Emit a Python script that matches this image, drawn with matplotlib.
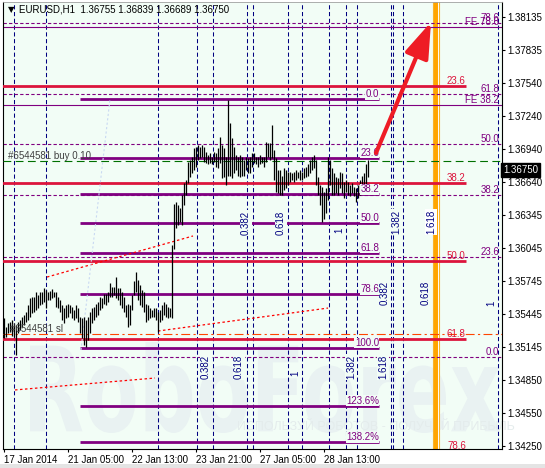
import matplotlib
matplotlib.use("Agg")
import matplotlib.pyplot as plt
from matplotlib.patches import FancyArrowPatch, PathPatch, Rectangle
from matplotlib.textpath import TextPath
from matplotlib.font_manager import FontProperties
from matplotlib.transforms import Affine2D

W, H = 545, 468
BG = "#F2FDF6"
NAVY = "#000080"
PURPLE = "#800080"
RED = "#DC143C"

plt.rcParams["font.family"] = ["Liberation Sans", "DejaVu Sans"]
plt.rcParams["font.size"] = 7

# EURUSD H1 bars (high / low), one per hour from 17 Jan 2014 21:00
bar_high = [
    1.3541, 1.3533, 1.3536, 1.3537, 1.3539, 1.3536, 1.3535, 1.3537, 1.3539, 1.3542,
    1.3544, 1.3546, 1.3553, 1.3559, 1.3560, 1.3560, 1.3564, 1.3562, 1.3564, 1.3564,
    1.3568, 1.3566, 1.3564, 1.3565, 1.3567, 1.3564, 1.3564, 1.3560, 1.3557, 1.3553,
    1.3550, 1.3553, 1.3554, 1.3553, 1.3551, 1.3548, 1.3553, 1.3550, 1.3542, 1.3541,
    1.3542, 1.3539, 1.3542, 1.3546, 1.3550, 1.3551, 1.3554, 1.3555, 1.3560, 1.3559,
    1.3563, 1.3563, 1.3564, 1.3573, 1.3569, 1.3569, 1.3578, 1.3568, 1.3568, 1.3564,
    1.3560, 1.3553, 1.3554, 1.3553, 1.3562, 1.3574, 1.3583, 1.3575, 1.3571, 1.3566,
    1.3564, 1.3554, 1.3553, 1.3550, 1.3548, 1.3550, 1.3550, 1.3546, 1.3548, 1.3553,
    1.3555, 1.3554, 1.3551, 1.3550, 1.3607, 1.3644, 1.3646, 1.3643, 1.3641, 1.3652,
    1.3663, 1.3666, 1.3682, 1.3684, 1.3687, 1.3695, 1.3696, 1.3698, 1.3696, 1.3698,
    1.3696, 1.3691, 1.3689, 1.3690, 1.3687, 1.3691, 1.3690, 1.3695, 1.3705, 1.3698,
    1.3695, 1.3687, 1.3738, 1.3718, 1.3704, 1.3696, 1.3689, 1.3687, 1.3689, 1.3687,
    1.3684, 1.3687, 1.3686, 1.3687, 1.3690, 1.3690, 1.3687, 1.3687, 1.3689, 1.3687,
    1.3687, 1.3700, 1.3699, 1.3699, 1.3716, 1.3693, 1.3686, 1.3675, 1.3675, 1.3670,
    1.3677, 1.3675, 1.3673, 1.3673, 1.3672, 1.3673, 1.3675, 1.3673, 1.3675, 1.3673,
    1.3677, 1.3678, 1.3680, 1.3684, 1.3687, 1.3689, 1.3684, 1.3669, 1.3661, 1.3660,
    1.3655, 1.3659, 1.3687, 1.3684, 1.3677, 1.3672, 1.3669, 1.3668, 1.3673, 1.3672,
    1.3664, 1.3666, 1.3664, 1.3661, 1.3663, 1.3660, 1.3659, 1.3661, 1.3666, 1.3670,
    1.3672, 1.3680, 1.3684,
]
bar_low = [
    1.3523, 1.3524, 1.3527, 1.3528, 1.3525, 1.3524, 1.3507, 1.3527, 1.3530, 1.3533,
    1.3535, 1.3537, 1.3539, 1.3542, 1.3545, 1.3546, 1.3548, 1.3550, 1.3553, 1.3554,
    1.3555, 1.3550, 1.3557, 1.3557, 1.3559, 1.3560, 1.3551, 1.3550, 1.3546, 1.3539,
    1.3536, 1.3541, 1.3542, 1.3545, 1.3541, 1.3539, 1.3541, 1.3537, 1.3527, 1.3523,
    1.3516, 1.3515, 1.3521, 1.3527, 1.3536, 1.3539, 1.3542, 1.3544, 1.3548, 1.3550,
    1.3554, 1.3553, 1.3555, 1.3560, 1.3560, 1.3562, 1.3559, 1.3557, 1.3553, 1.3550,
    1.3546, 1.3542, 1.3533, 1.3535, 1.3548, 1.3562, 1.3564, 1.3557, 1.3553, 1.3551,
    1.3546, 1.3537, 1.3539, 1.3541, 1.3542, 1.3542, 1.3539, 1.3528, 1.3537, 1.3539,
    1.3544, 1.3542, 1.3541, 1.3542, 1.3541, 1.3603, 1.3622, 1.3625, 1.3628, 1.3625,
    1.3643, 1.3652, 1.3663, 1.3669, 1.3672, 1.3675, 1.3678, 1.3684, 1.3686, 1.3687,
    1.3682, 1.3681, 1.3680, 1.3681, 1.3680, 1.3682, 1.3678, 1.3677, 1.3681, 1.3668,
    1.3669, 1.3661, 1.3670, 1.3670, 1.3668, 1.3672, 1.3675, 1.3670, 1.3669, 1.3670,
    1.3670, 1.3675, 1.3672, 1.3672, 1.3678, 1.3681, 1.3680, 1.3678, 1.3680, 1.3681,
    1.3678, 1.3682, 1.3687, 1.3684, 1.3686, 1.3666, 1.3655, 1.3654, 1.3652, 1.3652,
    1.3657, 1.3659, 1.3661, 1.3664, 1.3666, 1.3664, 1.3666, 1.3668, 1.3666, 1.3666,
    1.3668, 1.3669, 1.3670, 1.3672, 1.3675, 1.3677, 1.3661, 1.3652, 1.3643, 1.3628,
    1.3631, 1.3636, 1.3648, 1.3661, 1.3652, 1.3652, 1.3654, 1.3652, 1.3659, 1.3654,
    1.3650, 1.3655, 1.3652, 1.3651, 1.3654, 1.3651, 1.3646, 1.3650, 1.3652, 1.3655,
    1.3661, 1.3660, 1.3669,
]
last_price = 1.36750
header = "EURUSD,H1  1.36755 1.36839 1.36689 1.36750"

time_label_bars = [0, 32, 64, 96, 128, 160]
time_labels = ["17 Jan 2014", "21 Jan 05:00", "22 Jan 13:00",
               "23 Jan 21:00", "27 Jan 05:00", "28 Jan 13:00"]
price_ticks = [1.38135, 1.37835, 1.37540, 1.37240, 1.36940, 1.36640, 1.36345,
               1.36045, 1.35745, 1.35445, 1.35145, 1.34850, 1.34550, 1.34250]

# Fibonacci retracement, dashed, across the whole chart
retr_labels = ["78.6", "61.8", "50.0", "38.2", "23.6", "0.0"]
retr_prices = [1.38082, 1.37438, 1.36985, 1.36523, 1.35962, 1.35056]
# Fibonacci expansion, thin solid
fe_labels = ["FE 78.6", "FE 38.2"]
fe_prices = [1.38045, 1.37339]
# second retracement (red)
red_labels = ["23.6", "38.2", "50.0", "61.8", "78.6"]
red_prices = [1.37511, 1.36632, 1.35925, 1.35219, 1.34208]
# third retracement / extension (purple, thick)
pur_labels = ["0.0", "23.6", "38.2", "50.0", "61.8", "78.6", "100.0", "123.6%", "138.2%"]
pur_prices = [1.37393, 1.36859, 1.36532, 1.36270, 1.35998, 1.35626, 1.35137, 1.34612, 1.34285]
pur_start, pur_end = 38, 187.5
red_end = 231

buy_price = 1.36831
sl_price = 1.35264

# Fibonacci time zones (bar positions)
time_zone_bars = [5, 21, 77, 96.5, 104.5, 121.5, 124.5, 142, 149, 162.5,
                  171, 176.5, 193.5, 194.5, 199.5, 247]
highlight_bar = 216

# trend lines: (bar0, price0, bar1, price1)
red_dotted = [(5.5, 1.34757, 75.5, 1.34865),
              (21.5, 1.35780, 94.5, 1.36152),
              (77, 1.35291, 162, 1.35499)]
fib_anchor = (38.5, 1.35119, 53, 1.37393)
arrow_from = (186, 1.36904)
arrow_to = (213.5, 1.38091)


def fxy(x, y):
    return x / W, 1 - y / H


fig = plt.figure(figsize=(W / 100, H / 100), dpi=100)
fig.patch.set_facecolor("white")
fig.add_artist(Rectangle((0, 0), 1, 4 / H, transform=fig.transFigure,
                         facecolor="#E4E4E4", edgecolor="none"))
ax = fig.add_axes([3 / W, 19 / H, 499 / W, 447 / H])
ax.set_facecolor(BG)

# watermark
tp = TextPath((0, 0), "RoboForex", size=100,
              prop=FontProperties(family="DejaVu Sans", weight="bold"))
bb = tp.get_extents()
x0, y0 = fxy(30, 433)
x1, y1 = fxy(500, 342)
tr = Affine2D().translate(-bb.x0, -bb.y0).scale((x1 - x0) / bb.width, (y1 - y0) / bb.height) \
    .translate(x0, y0) + fig.transFigure
ax.add_artist(PathPatch(tp, transform=tr, facecolor="#E9F2F2", edgecolor="none", zorder=0.5))
ax.text(*fxy(237, 427), "ИСПОЛЬЗУЙ РОБОТОВ - ПОЛУЧАЙ ПРИБЫЛЬ", transform=fig.transFigure,
        fontsize=9, color="#E4ECEC", va="center", ha="left", zorder=0.6)

# time zones
for b in time_zone_bars:
    ax.axvline(b, color=NAVY, lw=0.75, dashes=(4, 2.5), zorder=1)
ax.axvspan(highlight_bar - 1.5, highlight_bar + 1.5, facecolor="white", edgecolor="none", zorder=1.1)
ax.axvline(highlight_bar - 1.5, color="#F7B32B", lw=0.8, zorder=1.2)
ax.axvline(highlight_bar + 1.5, color="#F7B32B", lw=0.8, zorder=1.2)
ax.axvspan(highlight_bar - 0.8, highlight_bar + 0.8, facecolor="#FFA500", edgecolor="none", zorder=1.2)

tz_texts = [("0.382", 246, 223), ("0.618", 281, 223), ("1", 339, 230),
            ("1.382", 396, 222), ("1.618", 431, 222),
            ("0.382", 385, 293), ("0.618", 426, 293), ("1", 491, 303),
            ("0.382", 206, 367), ("0.618", 239, 367), ("1", 295, 373),
            ("1.382", 351, 367), ("1.618", 383, 367)]
for t, x, y in tz_texts:
    fc = "white" if t == "1.618" and x > 420 else BG
    ax.text(*fxy(x, y), t, transform=fig.transFigure, rotation=90, color=NAVY,
            ha="center", va="center", fontsize=7, zorder=6,
            bbox=dict(boxstyle="square,pad=0.1", facecolor=fc, edgecolor="none"))

# dashed retracement and FE lines
for p, lab in zip(retr_prices, retr_labels):
    ax.axhline(p, color=PURPLE, lw=0.8, dashes=(3, 2), zorder=2)
    ax.text(247.5, p, lab, color=PURPLE, ha="right", va="bottom", fontsize=7, zorder=5)
for p, lab in zip(fe_prices, fe_labels):
    ax.axhline(p, color=PURPLE, lw=0.8, zorder=2)
    ax.text(247.5, p, lab, color=PURPLE, ha="right", va="bottom", fontsize=7, zorder=5)

# red levels
for p, lab in zip(red_prices, red_labels):
    ax.plot([-1, red_end], [p, p], color=RED, lw=2, solid_capstyle="butt", zorder=3)
    ax.text(221.5, p, lab, color=RED, ha="left", va="bottom", fontsize=7, zorder=5,
            clip_on=False)

# purple levels
for p, lab in zip(pur_prices, pur_labels):
    ax.plot([pur_start, pur_end], [p, p], color=PURPLE, lw=2, solid_capstyle="butt", zorder=3.2)
    ax.text(pur_end, p, lab, color=PURPLE, ha="right", va="bottom", fontsize=7, zorder=5,
            bbox=dict(boxstyle="square,pad=0.05", facecolor=BG, edgecolor="none"))

# trade lines
ax.axhline(buy_price, color="#007000", lw=0.8, dashes=(7, 4), zorder=3.5)
ax.text(2, buy_price, "#6544581 buy 0.10", color="#404040", ha="left", va="bottom",
        fontsize=7, zorder=5)
ax.axhline(sl_price, color="#FF4500", lw=0.8, dashes=(8, 3, 2, 3), zorder=3.5)
ax.text(3, sl_price, "#6544581 sl", color="#404040", ha="left", va="bottom",
        fontsize=7, zorder=5)

# trend lines
for b0, p0, b1, p1 in red_dotted:
    ax.plot([b0, b1], [p0, p1], color="#FF0000", lw=0.9, dashes=(2, 2), zorder=3.6)
ax.plot([fib_anchor[0], fib_anchor[2]], [fib_anchor[1], fib_anchor[3]],
        color="#C9D9F2", lw=0.8, dashes=(2, 2), zorder=3.6)

# price bars
bars = list(range(len(bar_high)))
ax.vlines(bars, bar_low, bar_high, color="black", lw=0.9, zorder=4)

# arrow
ax.add_patch(FancyArrowPatch(arrow_from, arrow_to,
                             arrowstyle="-|>,head_length=2.2,head_width=0.75",
                             mutation_scale=10, lw=3, color="#EE1C25",
                             shrinkA=0, shrinkB=0, zorder=7))

ax.set_xlim(-0.5, 249)
ax.set_ylim(1.34222, 1.38272)

ax.yaxis.tick_right()
ax.set_yticks(price_ticks)
ax.set_yticklabels([f"{v:.5f}" for v in price_ticks])
ax.tick_params(axis="y", direction="out", length=2.5, width=0.8, pad=1.5, labelsize=7)
ax.set_xticks(time_label_bars)
ax.set_xticklabels(time_labels)
plt.setp(ax.get_xticklabels(), ha="left")
ax.tick_params(axis="x", direction="out", length=2.5, width=0.8, pad=2, labelsize=7)
for s in ["left", "right", "bottom"]:
    ax.spines[s].set_color("black")
    ax.spines[s].set_linewidth(0.8)
ax.spines["top"].set_color("#A0A0A0")
ax.spines["top"].set_linewidth(0.6)

ax.text(1.002, last_price, f"{last_price:.5f}", transform=ax.get_yaxis_transform(),
        color="white", ha="left", va="center", fontsize=7, zorder=8,
        bbox=dict(boxstyle="square,pad=0.25", facecolor="black", edgecolor="black"))

fig.text(*fxy(8, 10), "▼", fontsize=6, color="black", va="center", ha="left",
         family="DejaVu Sans")
fig.text(*fxy(19, 10), header, fontsize=7, color="black", va="center", ha="left")

fig.savefig("out.png", dpi=100, facecolor=fig.get_facecolor())
